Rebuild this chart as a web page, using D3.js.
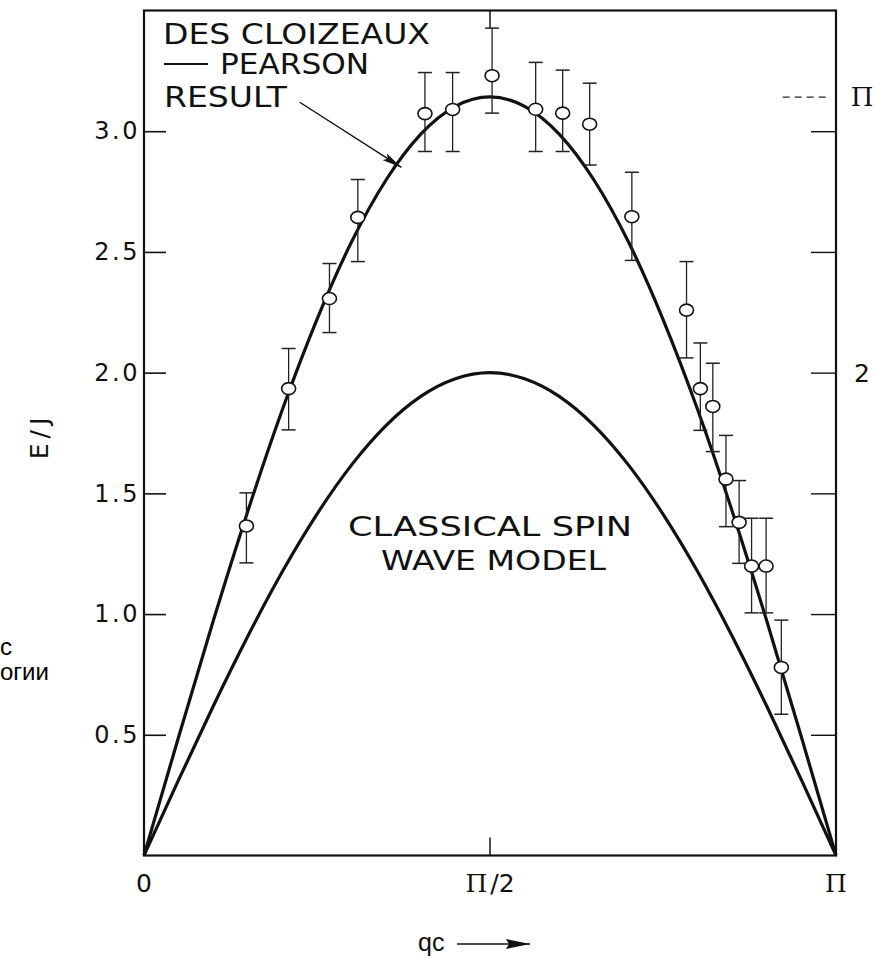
<!DOCTYPE html>
<html>
<head>
<meta charset="utf-8">
<script src="https://cdn.jsdelivr.net/npm/d3@7"></script>
<style>
  body { margin: 0; background: #fff; }
  svg { display: block; }
  .lbl { font-family: "DejaVu Sans", sans-serif; fill: #111; }
</style>
</head>
<body>
<script>
// qc in units of pi, E/J
var curveQ = [0, 0.05, 0.1, 0.15, 0.2, 0.25, 0.3, 0.35, 0.4, 0.45, 0.5,
              0.55, 0.6, 0.65, 0.7, 0.75, 0.8, 0.85, 0.9, 0.95, 1];
var desCloizeauxE = [0, 0.491, 0.971, 1.426, 1.847, 2.221, 2.542, 2.799, 2.988, 3.103, 3.142,
                     3.103, 2.988, 2.799, 2.542, 2.221, 1.847, 1.426, 0.971, 0.491, 0];
var classicalE = [0, 0.313, 0.618, 0.908, 1.176, 1.414, 1.618, 1.782, 1.902, 1.975, 2.000,
                  1.975, 1.902, 1.782, 1.618, 1.414, 1.176, 0.908, 0.618, 0.313, 0];

// measured points with error bars
var ptQ = [0.148, 0.209, 0.268, 0.309, 0.406, 0.446, 0.503, 0.566, 0.605, 0.644,
           0.705, 0.784, 0.804, 0.822, 0.841, 0.860, 0.878, 0.899, 0.921];
var ptE = [1.365, 1.934, 2.307, 2.643, 3.073, 3.090, 3.230, 3.091, 3.075, 3.029,
           2.646, 2.259, 1.934, 1.860, 1.559, 1.380, 1.199, 1.199, 0.779];
var ptHi = [1.502, 2.100, 2.452, 2.800, 3.243, 3.243, 3.427, 3.285, 3.253, 3.199,
            2.830, 2.460, 2.123, 2.039, 1.740, 1.553, 1.397, 1.397, 0.975];
var ptLo = [1.212, 1.763, 2.166, 2.460, 2.916, 2.916, 3.075, 2.916, 2.916, 2.860,
            2.465, 2.061, 1.761, 1.673, 1.362, 1.210, 1.005, 1.005, 0.585];

var yTicks = [0.5, 1.0, 1.5, 2.0, 2.5, 3.0];
var xTickLabels = [{q: 0, t: "0"}, {q: 0.5, t: "/2"}, {q: 1, t: ""}];

var width = 874, height = 958;
var svg = d3.select("body").append("svg")
    .attr("width", width)
    .attr("height", height);

svg.append("rect").attr("width", width).attr("height", height).attr("fill", "#fff");

var x = d3.scaleLinear().domain([0, 1]).range([144, 836]);
var y = d3.scaleLinear().domain([0, 3.5]).range([855.5, 10.5]);

var defs = svg.append("defs");
defs.append("marker")
    .attr("id", "head")
    .attr("viewBox", "0 0 20 8")
    .attr("refX", 20).attr("refY", 4)
    .attr("markerWidth", 20).attr("markerHeight", 8)
    .attr("markerUnits", "userSpaceOnUse")
    .attr("orient", "auto")
  .append("path")
    .attr("d", "M0,0 L20,4 L0,8 L4,4 Z")
    .attr("fill", "#111");
defs.append("marker")
    .attr("id", "head2")
    .attr("viewBox", "0 0 24 10")
    .attr("refX", 24).attr("refY", 5)
    .attr("markerWidth", 24).attr("markerHeight", 10)
    .attr("markerUnits", "userSpaceOnUse")
    .attr("orient", "auto")
  .append("path")
    .attr("d", "M0,0 L24,5 L0,10 L3,5 Z")
    .attr("fill", "#111");

//frame
svg.append("rect")
    .attr("x", x(0)).attr("y", y(3.5))
    .attr("width", x(1) - x(0)).attr("height", y(0) - y(3.5))
    .attr("fill", "none").attr("stroke", "#111").attr("stroke-width", 2.2);

//left axis, ticks pointing in
var yAxisL = d3.axisLeft(y).tickValues(yTicks).tickSize(-22).tickPadding(4)
    .tickFormat(d3.format(".1f"));
var gl = svg.append("g").attr("transform", "translate(" + x(0) + ",0)").call(yAxisL);
gl.select(".domain").remove();
gl.selectAll("line").attr("stroke", "#111").attr("stroke-width", 1.6);
gl.selectAll("text").attr("class", "lbl").attr("font-size", 24)
    .attr("letter-spacing", 2.5).attr("fill", "#111");

//right axis
var yAxisR = d3.axisRight(y).tickValues(yTicks).tickSize(-25).tickFormat("");
var gr = svg.append("g").attr("transform", "translate(" + x(1) + ",0)").call(yAxisR);
gr.select(".domain").remove();
gr.selectAll("line").attr("stroke", "#111").attr("stroke-width", 1.4);

// pi marker on right
svg.append("line")
    .attr("x1", x(0.923)).attr("x2", x(0.991))
    .attr("y1", y(Math.PI)).attr("y2", y(Math.PI))
    .attr("stroke", "#222").attr("stroke-width", 1.3)
    .attr("stroke-dasharray", "7,5");
svg.append("text").attr("class", "lbl")
    .attr("x", 862).attr("y", y(Math.PI)).attr("dy", "0.36em")
    .attr("text-anchor", "middle").attr("font-size", 26)
    .style("font-family", "DejaVu Serif, serif")
    .text("\u03A0");
svg.append("text").attr("class", "lbl")
    .attr("x", 862).attr("y", y(2.0)).attr("dy", "0.36em")
    .attr("text-anchor", "middle").attr("font-size", 25)
    .text("2");

//pi/2 ticks top and bottom
svg.append("line").attr("x1", x(0.5)).attr("x2", x(0.5))
    .attr("y1", y(0)).attr("y2", y(0) - 18).attr("stroke", "#111").attr("stroke-width", 1.5);
svg.append("line").attr("x1", x(0.5)).attr("x2", x(0.5))
    .attr("y1", y(3.5)).attr("y2", y(3.5) + 18).attr("stroke", "#111").attr("stroke-width", 1.5);

//x tick labels
var xl = svg.append("g").selectAll("text")
    .data(xTickLabels)
    .enter().append("text")
    .attr("class", "lbl")
    .attr("x", function(d) { return x(d.q); })
    .attr("y", 892)
    .attr("text-anchor", "middle")
    .attr("font-size", 25);
xl.each(function(d) {
    var t = d3.select(this);
    if (d.q == 0) { t.text(d.t); return; }
    t.append("tspan").style("font-family", "DejaVu Serif, serif").text("\u03A0");
    if (d.t) t.append("tspan").attr("dx", 3).text(d.t);
});

//axis titles
svg.append("text").attr("class", "lbl")
    .attr("transform", "translate(48,436) rotate(-90)")
    .attr("text-anchor", "middle").attr("font-size", 25)
    .attr("letter-spacing", 5)
    .text("E/J");
svg.append("text").attr("class", "lbl")
    .attr("x", 418).attr("y", 951)
    .attr("font-size", 25)
    .style("font-family", "Liberation Sans, sans-serif")
    .text("qc");
svg.append("line")
    .attr("x1", 457).attr("y1", 944).attr("x2", 530).attr("y2", 944)
    .attr("stroke", "#111").attr("stroke-width", 1.4)
    .attr("marker-end", "url(#head2)");

//curves
var line = d3.line()
    .x(function(d) { return x(d[0]); })
    .y(function(d) { return y(d[1]); })
    .curve(d3.curveNatural);

svg.append("path")
    .datum(d3.zip(curveQ, desCloizeauxE))
    .attr("d", line)
    .attr("fill", "none").attr("stroke", "#111").attr("stroke-width", 3.2);
svg.append("path")
    .datum(d3.zip(curveQ, classicalE))
    .attr("d", line)
    .attr("fill", "none").attr("stroke", "#111").attr("stroke-width", 3.2);

//error bars and points
var pts = ptQ.map(function(q, i) { return {q: q, e: ptE[i], hi: ptHi[i], lo: ptLo[i]}; });
var eb = svg.append("g").selectAll("g")
    .data(pts)
    .enter().append("g");
eb.append("line")
    .attr("x1", function(d) { return x(d.q); })
    .attr("x2", function(d) { return x(d.q); })
    .attr("y1", function(d) { return y(d.hi); })
    .attr("y2", function(d) { return y(d.lo); })
    .attr("stroke", "#222").attr("stroke-width", 1.3);
eb.append("line")
    .attr("x1", function(d) { return x(d.q) - 7; })
    .attr("x2", function(d) { return x(d.q) + 7; })
    .attr("y1", function(d) { return y(d.hi); })
    .attr("y2", function(d) { return y(d.hi); })
    .attr("stroke", "#222").attr("stroke-width", 1.5);
eb.append("line")
    .attr("x1", function(d) { return x(d.q) - 7; })
    .attr("x2", function(d) { return x(d.q) + 7; })
    .attr("y1", function(d) { return y(d.lo); })
    .attr("y2", function(d) { return y(d.lo); })
    .attr("stroke", "#222").attr("stroke-width", 1.5);
eb.append("ellipse")
    .attr("cx", function(d) { return x(d.q); })
    .attr("cy", function(d) { return y(d.e); })
    .attr("rx", 7).attr("ry", 6)
    .attr("fill", "#fff").attr("stroke", "#111").attr("stroke-width", 1.6);

//annotations
function note(txt, x0, base, x1, size) {
    svg.append("text").attr("class", "lbl")
        .attr("x", x0).attr("y", base)
        .attr("font-size", size)
        .attr("textLength", x1 - x0)
        .attr("lengthAdjust", "spacingAndGlyphs")
        .text(txt);
}
note("DES CLOIZEAUX", 163, 44, 430, 28);
note("PEARSON", 220, 74, 369, 28);
note("RESULT", 164, 107, 287, 28);
svg.append("line").attr("x1", 164).attr("x2", 208).attr("y1", 64).attr("y2", 64)
    .attr("stroke", "#111").attr("stroke-width", 2);
note("CLASSICAL SPIN", 348, 536, 632, 26);
note("WAVE MODEL", 381, 570, 606, 26);

svg.append("line")
    .attr("x1", x(0.225)).attr("y1", y(3.12))
    .attr("x2", x(0.372)).attr("y2", y(2.85))
    .attr("stroke", "#111").attr("stroke-width", 1.4)
    .attr("marker-end", "url(#head)");

// stray text from the scanned page edge
svg.append("text").attr("x", 0).attr("y", 655).attr("font-size", 24)
    .style("font-family", "Liberation Sans, Arial, sans-serif").text("с");
svg.append("text").attr("x", 0).attr("y", 680).attr("font-size", 24)
    .style("font-family", "Liberation Sans, Arial, sans-serif").text("огии");
</script>
</body>
</html>
